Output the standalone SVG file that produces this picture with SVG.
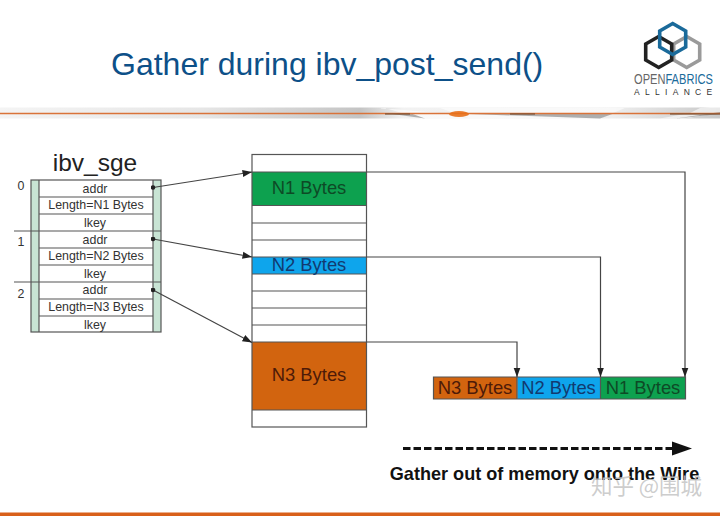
<svg xmlns="http://www.w3.org/2000/svg" width="720" height="516" viewBox="0 0 720 516">
<style>
text{font-family:"Liberation Sans",Arial,sans-serif;text-anchor:middle}
.c{font-size:12.4px;fill:#333}
.b{font-size:18.4px}
.cell{fill:none;stroke:#555;stroke-width:1.2}
.sep{stroke:#555;stroke-width:1.2;fill:none}
.con{fill:none;stroke:#444;stroke-width:1.2}
.hex{fill:none;stroke-width:3.600;stroke-linejoin:miter}
</style>
<defs>
<marker id="a" markerUnits="userSpaceOnUse" markerWidth="11" markerHeight="9" refX="9.500" refY="4.500" orient="auto"><path d="M0 1L9.500 4.500L0 8Z" fill="#222"/></marker>
<marker id="d" markerUnits="userSpaceOnUse" markerWidth="5" markerHeight="5" refX="2.500" refY="2.500"><circle cx="2.500" cy="2.500" r="2.300" fill="#222"/></marker>
<linearGradient id="band" x1="0" x2="1" y1="0" y2="0"><stop offset="0" stop-color="#f4f4f4"/><stop offset=".28" stop-color="#e6e6e6"/><stop offset=".5" stop-color="#c4c4c4"/><stop offset=".56" stop-color="#f2f2f2"/><stop offset=".85" stop-color="#eeeeee"/><stop offset="1" stop-color="#c8c8c8"/></linearGradient>
</defs>
<rect width="720" height="516" fill="#fff"/>
<g id="title"><text x="111" y="75" style="text-anchor:start;font-size:32px;fill:#0d5088">Gather during ibv_post_send()</text></g>
<g id="logo">
<path class="hex" style="stroke:#9a9a9a" d="M686.700 36.500L699.700 44V60L686.700 67.500L673.700 60V44Z"/>
<path class="hex" style="stroke:#222" d="M658.700 36.500L671.700 44V60L658.700 67.500L645.700 60V44Z"/>
<path class="hex" style="stroke:#1a6a9a" d="M672.700 23.500L685.700 31V47L672.700 54.500L659.700 47V31Z"/>
<text transform="translate(634 84) scale(.74 1)" style="text-anchor:start;font-size:15px;fill:#666">OPEN<tspan fill="#1a6a9a">FABRICS</tspan></text>
<text x="634" y="94.500" style="text-anchor:start;font-size:8.500px;fill:#333;letter-spacing:5.300px">ALLIANCE</text>
</g>
<g id="band">
<rect x="0" y="107.500" width="720" height="11" fill="url(#band)"/>
<path d="M385 108L420 118.500H470L440 113L380 108ZM440 108L470 118.500H600L625 108ZM700 108L720 106V113L685 118.500H660L690 113Z" fill="#fff" opacity=".6"/>
<path d="M385 113L425 118.500L410 113ZM470 114L600 118.500L615 113ZM676 118.500L720 112V114Z" fill="#8f8f8f" opacity=".7"/>
<path d="M0 113.500H720" stroke="#d9733a" stroke-width="1.300"/>
<path d="M385 114H410M510 114H535M670 114H720" stroke="#6b4a30" stroke-width="1.500" opacity=".7"/>
<ellipse cx="459" cy="114" rx="10" ry="3" fill="#e8701a" opacity=".9"/>
</g>
<rect id="footer" x="0" y="512.500" width="720" height="3.500" fill="#d9601a"/>
<g id="sge">
<text x="95" y="171" style="font-size:24.500px;fill:#222">ibv_sge</text>
<rect x="31" y="180" width="8" height="152" fill="#c8e4d4"/>
<rect x="153" y="180" width="8" height="152" fill="#c8e4d4"/>
<rect class="cell" x="31" y="180" width="130" height="152"/>
<path class="sep" d="M39 180V332M153 180V332M39 197H153M39 214H153M14 231H161M39 248H153M39 265H153M14 282H161M39 299H153M39 316H153"/>
<text class="c" x="21" y="190">0</text><text class="c" x="21" y="246">1</text><text class="c" x="21" y="298">2</text>
<text class="c" x="95" y="193">addr</text><text class="c" x="96" y="209">Length=N1 Bytes</text><text class="c" x="95" y="227">lkey</text>
<text class="c" x="95" y="244">addr</text><text class="c" x="96" y="260">Length=N2 Bytes</text><text class="c" x="95" y="278">lkey</text>
<text class="c" x="95" y="294">addr</text><text class="c" x="96" y="311">Length=N3 Bytes</text><text class="c" x="95" y="329">lkey</text>
</g>
<g id="memory">
<rect x="252" y="172" width="114.500" height="33.500" fill="#0da14f"/>
<rect x="252" y="257" width="114.500" height="17" fill="#0ea5ec"/>
<rect x="252" y="342" width="114.500" height="68" fill="#d2640f"/>
<rect class="cell" x="252" y="154.500" width="114.500" height="272.500"/>
<path class="sep" d="M252 172H366.500M252 205.500H366.500M252 223H366.500M252 240H366.500M252 257H366.500M252 274H366.500M252 291H366.500M252 308H366.500M252 325H366.500M252 342H366.500M252 410H366.500"/>
<text class="b" x="309" y="194" fill="#0d4a26">N1 Bytes</text>
<text class="b" x="309" y="271" fill="#123a70">N2 Bytes</text>
<text class="b" x="309" y="381" fill="#4d1a08">N3 Bytes</text>
</g>
<g id="wire">
<rect x="433.500" y="377" width="84" height="22" fill="#d2640f"/>
<rect x="517.500" y="377" width="83" height="22" fill="#0ea5ec"/>
<rect x="600.500" y="377" width="85" height="22" fill="#0da14f"/>
<path class="cell" d="M433.500 377H685.500V399H433.500ZM517 377V399M600.500 377V399"/>
<text class="b" x="475" y="394" fill="#4d1a08">N3 Bytes</text>
<text class="b" x="558.500" y="394" fill="#123a70">N2 Bytes</text>
<text class="b" x="643" y="394" fill="#0d4a26">N1 Bytes</text>
</g>
<g id="connectors">
<path class="con" d="M153 187.500L252 172" marker-start="url(#d)" marker-end="url(#a)"/>
<path class="con" d="M153 239L252 257" marker-start="url(#d)" marker-end="url(#a)"/>
<path class="con" d="M153 290L252 342.500" marker-start="url(#d)" marker-end="url(#a)"/>
<path class="con" d="M366.500 172H685V377" marker-end="url(#a)"/>
<path class="con" d="M366.500 257H600.500V377" marker-end="url(#a)"/>
<path class="con" d="M366.500 342H517V377" marker-end="url(#a)"/>
<path d="M403 448.500H673" stroke="#111" stroke-width="3" stroke-dasharray="7.500 3" fill="none"/>
<path d="M672 441.500L692 448.500L672 455.500Z" fill="#111"/>
</g>
<g id="caption"><text x="544.500" y="480" style="font-size:18.100px;font-weight:700;fill:#111">Gather out of memory onto the Wire</text></g>
<g id="watermark"><text x="646.500" y="494" style="font-family:'Noto Sans CJK SC','Liberation Sans',sans-serif;font-size:21.500px;fill:#c4c4c4;fill-opacity:.85">知乎 @围城</text></g>
</svg>
